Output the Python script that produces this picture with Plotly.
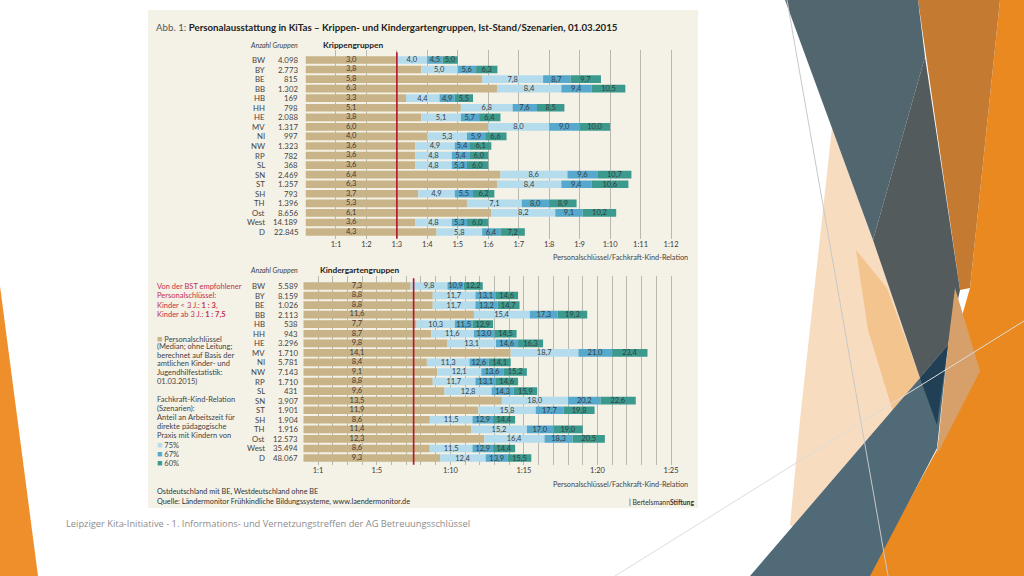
import plotly.graph_objects as go

# ---------------- data ----------------
regions = ["BW", "BY", "BE", "BB", "HB", "HH", "HE", "MV", "NI", "NW", "RP", "SL",
           "SN", "ST", "SH", "TH", "Ost", "West", "D"]

krippe_groups = ["4.098", "2.773", "815", "1.302", "169", "798", "2.088", "1.317", "997",
                 "1.323", "782", "368", "2.469", "1.357", "793", "1.396", "8.656", "14.189", "22.845"]
krippe_median = [3.0, 3.8, 5.8, 6.3, 3.3, 5.1, 3.8, 6.0, 4.0, 3.6, 3.6, 3.6, 6.4, 6.3, 3.7, 5.3, 6.1, 3.6, 4.3]
krippe_75 = [4.0, 5.0, 7.8, 8.4, 4.4, 6.8, 5.1, 8.0, 5.3, 4.9, 4.8, 4.8, 8.6, 8.4, 4.9, 7.1, 8.2, 4.8, 5.8]
krippe_67 = [4.5, 5.6, 8.7, 9.4, 4.9, 7.6, 5.7, 9.0, 5.9, 5.4, 5.4, 5.3, 9.6, 9.4, 5.5, 8.0, 9.1, 5.3, 6.4]
krippe_60 = [5.0, 6.3, 9.7, 10.5, 5.5, 8.5, 6.4, 10.0, 6.6, 6.1, 6.0, 6.0, 10.7, 10.6, 6.2, 8.9, 10.2, 6.0, 7.2]

kita_groups = ["5.589", "8.159", "1.026", "2.113", "538", "943", "3.296", "1.710", "5.781",
               "7.143", "1.710", "431", "3.907", "1.901", "1.904", "1.916", "12.573", "35.494", "48.067"]
kita_median = [7.3, 8.8, 8.8, 11.6, 7.7, 8.7, 9.8, 14.1, 8.4, 9.1, 8.8, 9.6, 13.5, 11.9, 8.6, 11.4, 12.3, 8.6, 9.3]
kita_75 = [9.8, 11.7, 11.7, 15.4, 10.3, 11.6, 13.1, 18.7, 11.3, 12.1, 11.7, 12.8, 18.0, 15.8, 11.5, 15.2, 16.4, 11.5, 12.4]
kita_67 = [10.9, 13.1, 13.2, 17.3, 11.5, 13.0, 14.6, 21.0, 12.6, 13.6, 13.1, 14.3, 20.2, 17.7, 12.9, 17.0, 18.3, 12.9, 13.9]
kita_60 = [12.2, 14.6, 14.7, 19.3, 12.9, 14.5, 16.3, 23.4, 14.1, 15.2, 14.6, 15.9, 22.6, 19.8, 14.4, 19.0, 20.5, 14.4, 15.5]

krippe_ticks = list(range(1, 13))
krippe_ticktext = [f"1:{t}" for t in krippe_ticks]
kita_ticks = list(range(1, 26))
kita_ticktext = [f"1:{t}" if t in (1, 5, 10, 15, 20, 25) else "" for t in kita_ticks]
krippe_target = 3.0
kita_target = 7.5

# ---------------- style ----------------
W, H = 1024, 576
FONT = "Lato, 'Open Sans', sans-serif"
C_MED = "#c8b488"
C_75 = "#b5dcec"
C_67 = "#56a9cc"
C_60 = "#3b9a8d"
C_RED = "#b3132e"
C_TXT = "#3a3a3a"
C_GRID = "#b9b8b0"
C_PANEL = "#f4f1e6"
C_ROSE = "#c0304f"


def px(x):
    return x / W


def py(y):
    return 1 - y / H


def fmt(v):
    return f"{v:.1f}".replace(".", ",")


fig = go.Figure()


def add_group(median, s75, s67, s60, xa, ya):
    segments = [
        (median, [0.0] * len(median), C_MED, None),
        ([b - a for a, b in zip(median, s75)], median, C_75, s75),
        ([b - a for a, b in zip(s75, s67)], s75, C_67, s67),
        ([b - a for a, b in zip(s67, s60)], s67, C_60, s60),
    ]
    for length, base, col, lab in segments:
        kw = {}
        if lab is not None:
            kw = dict(text=[fmt(v) for v in lab], textposition="inside",
                      insidetextanchor="middle", textangle=0,
                      textfont=dict(family=FONT, size=7.5, color=C_TXT))
        fig.add_trace(go.Bar(
            y=regions, x=length, base=base, orientation="h",
            marker=dict(color=col, line=dict(width=0)),
            width=0.8, xaxis=xa, yaxis=ya, showlegend=False, hoverinfo="skip", **kw
        ))
    # median labels: all aligned at the centre of the shortest median bar
    centre = min(median) / 2
    fig.add_trace(go.Scatter(
        y=regions, x=[centre] * len(median), mode="text",
        text=[fmt(v) for v in median], textposition="middle center",
        textfont=dict(family=FONT, size=7.5, color=C_TXT),
        xaxis=xa, yaxis=ya, showlegend=False, hoverinfo="skip", cliponaxis=False,
    ))


add_group(krippe_median, krippe_75, krippe_67, krippe_60, "x", "y")
add_group(kita_median, kita_75, kita_67, kita_60, "x2", "y2")

# axes geometry (pixels)
k0, kscale = 305.5, 30.46
g0, gscale = 303.3, 14.71
k_right = 686.0
g_right = 681.0

axis_common = dict(showgrid=True, gridcolor=C_GRID, gridwidth=1, zeroline=False,
                   showline=False, ticks="", tickfont=dict(family=FONT, size=7.5, color=C_TXT),
                   fixedrange=True)

fig.update_layout(
    width=W, height=H,
    margin=dict(l=0, r=0, t=0, b=0),
    paper_bgcolor="white", plot_bgcolor="rgba(0,0,0,0)",
    barmode="overlay",
    uniformtext=dict(minsize=7.5, mode="show"),
    font=dict(family=FONT, color=C_TXT),
    xaxis=dict(domain=[px(k0), px(k_right)], range=[0, (k_right - k0) / kscale],
               tickvals=krippe_ticks, ticktext=krippe_ticktext, anchor="y", **axis_common),
    yaxis=dict(domain=[py(238.7), py(50.4)], range=[18.7, -1.0], type="category",
               categoryorder="array", categoryarray=regions, showticklabels=False,
               showgrid=False, zeroline=False, anchor="x", fixedrange=True),
    xaxis2=dict(domain=[px(g0), px(g_right)], range=[0, (g_right - g0) / gscale],
                tickvals=kita_ticks, ticktext=kita_ticktext, anchor="y2", **axis_common),
    yaxis2=dict(domain=[py(464.7), py(276.4)], range=[18.7, -1.0], type="category",
                categoryorder="array", categoryarray=regions, showticklabels=False,
                showgrid=False, zeroline=False, anchor="x2", fixedrange=True),
)

shapes = []


def poly(points, color, opacity=1.0):
    path = "M " + " L ".join(f"{px(x):.5f},{py(y):.5f}" for x, y in points) + " Z"
    shapes.append(dict(type="path", path=path, xref="paper", yref="paper",
                       fillcolor=color, opacity=opacity, line=dict(width=0), layer="below"))


# decorative slide shapes
poly([(0, 286), (38, 576), (0, 576)], "#ef8f2c")
poly([(1000, 0), (1024, 0), (1024, 576), (868, 576), (937, 450), (958, 330), (970, 288)], "#e98920")
poly([(918, 0), (1000, 0), (970, 288), (960, 290)], "#c47a31")
poly([(832, 128), (873, 240), (920, 378), (805, 535), (790, 525), (800, 420)], "#f8dcc0")
poly([(856, 250), (887, 288), (920, 378), (893, 412), (868, 330)], "#f4c48f")
poly([(785, 0), (918, 0), (925, 57), (873, 240)], "#52666f")
poly([(925, 57), (960, 290), (948, 345), (920, 378), (873, 240)], "#545b5d")
poly([(955, 288), (980, 371), (937, 455), (948, 345)], "#d7a06a")
poly([(750, 576), (920, 378), (948, 345), (937, 448), (870, 576)], "#506a78")
poly([(920, 378), (948, 345), (937, 425)], "#213f55")
shapes.append(dict(type="line", xref="paper", yref="paper", x0=px(787), y0=py(0), x1=px(888), y1=py(576),
                   line=dict(color="#c8c8c8", width=1), layer="below"))
shapes.append(dict(type="line", xref="paper", yref="paper", x0=px(615), y0=py(576), x1=px(1024), y1=py(321),
                   line=dict(color="#dcdcdc", width=1), layer="below"))

# chart panel
shapes.append(dict(type="rect", xref="paper", yref="paper", x0=px(148), x1=px(698), y0=py(508), y1=py(10),
                   fillcolor=C_PANEL, line=dict(width=0), layer="below"))

# target lines
shapes.append(dict(type="line", xref="x", yref="y domain", x0=krippe_target, x1=krippe_target, y0=0, y1=0.99,
                   line=dict(color=C_RED, width=1.6)))
shapes.append(dict(type="line", xref="x2", yref="y2 domain", x0=kita_target, x1=kita_target, y0=0, y1=0.99,
                   line=dict(color=C_RED, width=1.6)))

fig.update_layout(shapes=shapes)

ann = []


def text(x, y, s, size=7.5, color=C_TXT, anchor="left", yref="paper", ypos=None, family=FONT):
    ann.append(dict(x=px(x), y=py(y) if ypos is None else ypos, xref="paper", yref=yref, text=s,
                    showarrow=False, xanchor=anchor, yanchor="middle",
                    font=dict(family=family, size=size, color=color)))


# row labels
for ya, groups in (("y", krippe_groups), ("y2", kita_groups)):
    for r, g in zip(regions, groups):
        text(267, 0, r, size=7.8, color="#444", anchor="right", yref=ya, ypos=r)
        text(300, 0, g, size=7.8, color="#444", anchor="right", yref=ya, ypos=r)

# title
text(154, 27, "<span style='color:#555'>Abb. 1: </span><b>Personalausstattung in KiTas – Krippen- und "
              "Kindergartengruppen, Ist-Stand/Szenarien, 01.03.2015</b>", size=9.7, color="#222")

# sub headers
text(300, 45, "<i>Anzahl Gruppen</i>", size=7, color="#444", anchor="right")
text(321, 45, "<b>Krippengruppen</b>", size=8.3, color="#222")
text(300, 270, "<i>Anzahl Gruppen</i>", size=7, color="#444", anchor="right")
text(318, 270, "<b>Kindergartengruppen</b>", size=8.3, color="#222")

# axis titles
text(690, 257, "Personalschlüssel/Fachkraft-Kind-Relation", size=7.3, color="#444", anchor="right")
text(690, 484, "Personalschlüssel/Fachkraft-Kind-Relation", size=7.3, color="#444", anchor="right")

# recommendation block
for yy, s in zip([286, 295.5, 305, 314.5],
                 ["Von der BST empfohlener", "Personalschlüssel:",
                  "Kinder &lt; 3 J.: <b>1 : 3</b>,", "Kinder ab 3 J.: <b>1 : 7,5</b>"]):
    text(155, yy, s, size=7.5, color=C_ROSE)

# legend block 1
legend1 = [f"<span style='color:{C_MED};font-size:9px'>■</span> Personalschlüssel", "(Median; ohne Leitung;",
           "berechnet auf Basis der", "amtlichen Kinder- und", "Jugendhilfestatistik:", "01.03.2015)"]
for i, s in enumerate(legend1):
    text(155, 338 + 8.6 * i, s, size=7.5, color="#444")

legend2 = ["Fachkraft-Kind-Relation", "(Szenarien):", "Anteil an Arbeitszeit für",
           "direkte pädagogische", "Praxis mit Kindern von",
           f"<span style='color:{C_75};font-size:9px'>■</span> 75%",
           f"<span style='color:{C_67};font-size:9px'>■</span> 67%",
           f"<span style='color:{C_60};font-size:9px'>■</span> 60%"]
for i, s in enumerate(legend2):
    text(155, 399 + 9.1 * i, s, size=7.5, color="#444")

# footer
text(155, 491, "Ostdeutschland mit BE, Westdeutschland ohne BE", size=7.3, color="#333")
text(155, 501, "Quelle: Ländermonitor Frühkindliche Bildungssysteme, www.laendermonitor.de", size=7.3, color="#333")
text(696, 502, "<span style='color:#222'>|</span> Bertelsmann<b>Stiftung</b>", size=6.8, color="#333", anchor="right")

# slide caption
text(64, 523, "Leipziger Kita-Initiative - 1. Informations- und Vernetzungstreffen der AG Betreuungsschlüssel",
     size=9.3, color="#8c8c8c", family="'Open Sans', sans-serif")

fig.update_layout(annotations=ann)

fig.write_html("out.html", config={"displayModeBar": False, "staticPlot": True})

# remove default page margin so the figure sits at the window origin
with open("out.html", "r", encoding="utf-8") as f:
    html = f.read()
html = html.replace("<head>", "<head><style>html,body{margin:0;padding:0;overflow:hidden;}</style>", 1)
with open("out.html", "w", encoding="utf-8") as f:
    f.write(html)
